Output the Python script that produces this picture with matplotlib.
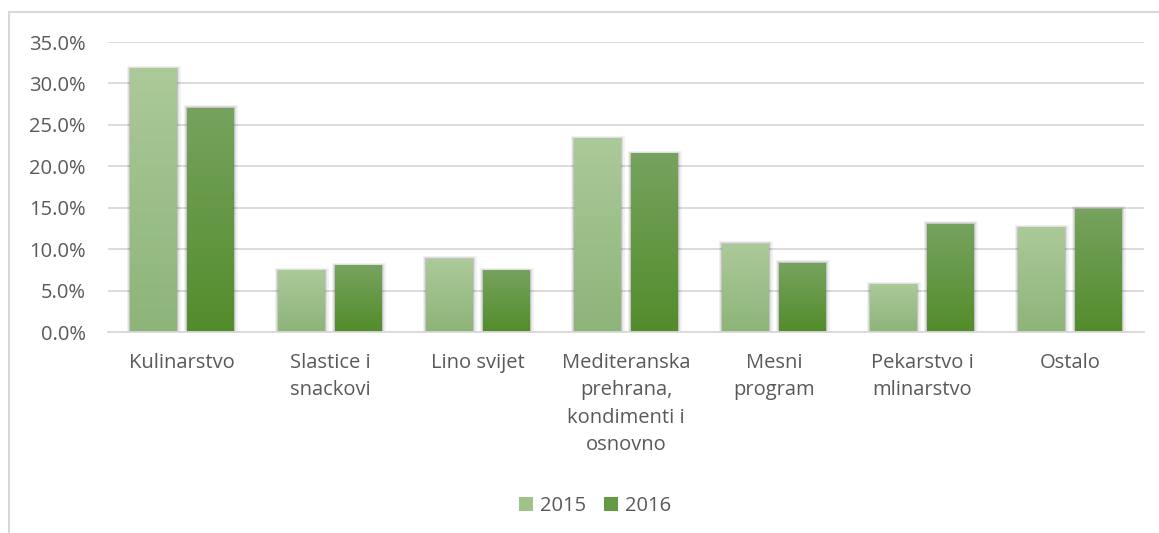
import matplotlib
matplotlib.use("Agg")
import matplotlib.pyplot as plt
import numpy as np
from matplotlib import patheffects
from matplotlib.colors import LinearSegmentedColormap
from matplotlib.lines import Line2D
from matplotlib.patches import Patch
from matplotlib.ticker import FuncFormatter

plt.rcParams["font.family"] = ["Open Sans", "DejaVu Sans"]

# ── Data ──────────────────────────────────────────────────────────────────────
categories = [
    "Kulinarstvo",
    "Slastice i\nsnackovi",
    "Lino svijet",
    "Mediteranska\nprehrana,\nkondimenti i\nosnovno",
    "Mesni\nprogram",
    "Pekarstvo i\nmlinarstvo",
    "Ostalo",
]
series_labels = ["2015", "2016"]
values_2015 = [31.8, 7.4, 8.8, 23.3, 10.6, 5.7, 12.6]
values_2016 = [27.0, 8.0, 7.4, 21.5, 8.3, 13.0, 14.8]
y_ticks = [0, 5, 10, 15, 20, 25, 30, 35]

# gradient (top, bottom) per series
grad_colors = [("#abca99", "#8db479"), ("#76a35e", "#538c2b")]
mid_colors = ["#9fc28a", "#659a45"]
text_col = "#595959"
grid_col = "#d9d9d9"
FS = 14.5

# ── Plot ──────────────────────────────────────────────────────────────────────
fig = plt.figure(figsize=(11.59, 5.33), dpi=100)
ax = fig.add_axes([108 / 1159, 1 - 332 / 533, (1144 - 108) / 1159, (332 - 42) / 533])

x = np.arange(len(categories))
width = 0.315
offsets = [-0.5 * width - 0.035, 0.5 * width + 0.035]

# soft outer shadow, roughly like the Excel bar style
shadow = [
    patheffects.Stroke(linewidth=5, foreground="black", alpha=0.05),
    patheffects.Stroke(linewidth=3, foreground="black", alpha=0.08),
    patheffects.Stroke(linewidth=1.2, foreground="black", alpha=0.14),
    patheffects.Normal(),
]

grad = np.linspace(0, 1, 256).reshape(-1, 1)
for vals, off, (top, bot), lab in zip([values_2015, values_2016], offsets,
                                       grad_colors, series_labels):
    bars = ax.bar(x + off, vals, width, color=top, linewidth=0, zorder=2, label=lab)
    cmap = LinearSegmentedColormap.from_list("g", [top, bot])
    for b in bars:
        b.set_path_effects(shadow)
        bx, bw, bh = b.get_x(), b.get_width(), b.get_height()
        ax.imshow(grad, extent=[bx, bx + bw, 0, bh], aspect="auto", cmap=cmap,
                  origin="upper", zorder=2.5, interpolation="bilinear")

ax.set_xlim(-0.5, len(categories) - 0.5)
ax.set_ylim(0, 35)
ax.set_yticks(y_ticks)
ax.yaxis.set_major_formatter(FuncFormatter(lambda v, _: f"{v:.1f}%"))
ax.set_xticks(x)
ax.set_xticklabels(categories, linespacing=1.5)

ax.grid(axis="y", color=grid_col, linewidth=1.3, zorder=0)
ax.set_axisbelow(True)
for side in ("top", "right", "left"):
    ax.spines[side].set_visible(False)
ax.spines["bottom"].set_color(grid_col)
ax.spines["bottom"].set_linewidth(1.3)
ax.tick_params(axis="both", length=0, labelsize=FS, colors=text_col)
ax.tick_params(axis="y", pad=16)
ax.tick_params(axis="x", pad=15)
for t in ax.get_xticklabels():
    t.set_verticalalignment("top")

handles = [Patch(facecolor=c, edgecolor="none") for c in mid_colors]
fig.legend(handles, series_labels, loc="center", bbox_to_anchor=(595 / 1159, 1 - 506 / 533),
           ncol=2, frameon=False, fontsize=FS, handlelength=0.7, handleheight=0.7,
           handletextpad=0.35, columnspacing=0.9, labelcolor=text_col)

# chart area border
fig.add_artist(Line2D([9 / 1159, 1], [1 - 12 / 533] * 2, transform=fig.transFigure,
                      color=grid_col, linewidth=1.5))
fig.add_artist(Line2D([9 / 1159] * 2, [0, 1 - 12 / 533], transform=fig.transFigure,
                      color=grid_col, linewidth=1.5))

fig.savefig("out.png", dpi=100)
